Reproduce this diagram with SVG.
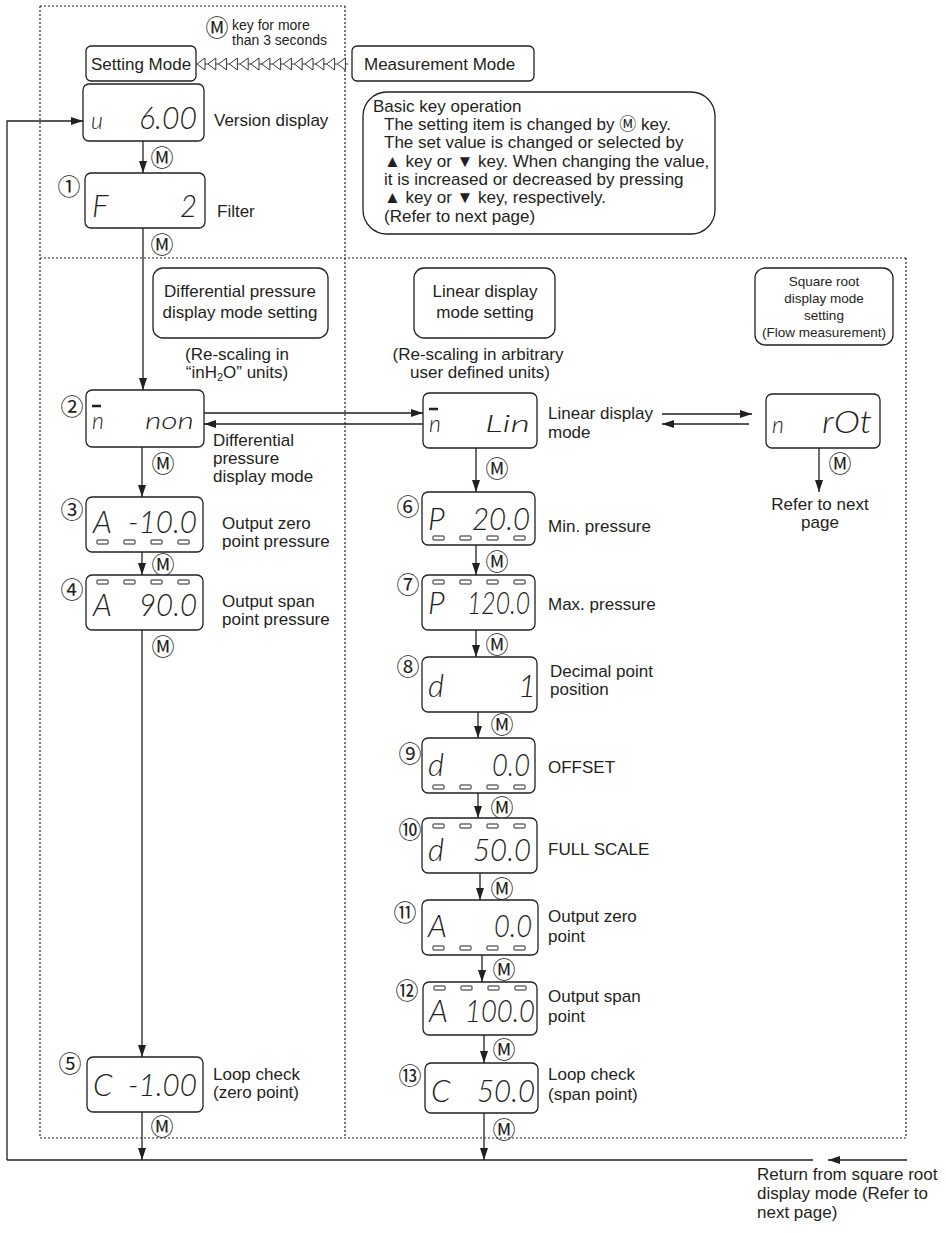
<svg xmlns="http://www.w3.org/2000/svg" width="946" height="1233" viewBox="0 0 946 1233">
<defs>
<style>
text{fill:#231f20}
.t{font-family:"Liberation Sans",Arial,sans-serif;font-size:17px}
.s{font-family:"Liberation Sans",Arial,sans-serif;font-size:14px}
.q{font-family:"Liberation Sans",Arial,sans-serif;font-size:13.5px;text-anchor:middle}
.c{text-anchor:middle}
.cj{font-family:"Noto Sans CJK JP",sans-serif}
.m{font-family:"Noto Sans CJK JP",sans-serif;font-size:23px;text-anchor:middle;dominant-baseline:central}
.lcd{font-family:"Lato","Liberation Sans",sans-serif;font-weight:300;font-style:italic;font-size:31px}
.lw{font-family:"Lato","Liberation Sans",sans-serif;font-weight:300;font-style:italic;font-size:23px}
.box{fill:#fff;stroke:#231f20;stroke-width:1.3}
.ln{fill:none;stroke:#231f20;stroke-width:1.3}
.ar{fill:none;stroke:#231f20;stroke-width:1.3;marker-end:url(#ah)}
.dt{fill:none;stroke:#231f20;stroke-width:1.2;stroke-dasharray:2 2}
.bar rect{fill:none;stroke:#231f20;stroke-width:1}
.seg{stroke:#231f20;stroke-width:2.5}
</style>
<marker id="ah" viewBox="0 0 12 8" refX="12" refY="4" markerWidth="12" markerHeight="8" orient="auto" markerUnits="userSpaceOnUse"><path d="M0,0 L12,4 L0,8 Z" fill="#231f20"/></marker>
<path id="ha" d="M0,0 L8,-6 L8,6 Z M8,0 H10.8" fill="#fff" stroke="#231f20" stroke-width="0.9"/>
<g id="bars" class="bar"><rect x="11" y="0" width="11" height="4" rx="0.5"/><rect x="38" y="0" width="11" height="4" rx="0.5"/><rect x="65" y="0" width="11" height="4" rx="0.5"/><rect x="92" y="0" width="11" height="4" rx="0.5"/></g>
</defs>
<rect width="946" height="1233" fill="#fff"/>

<g id="frames">
<line class="dt" x1="40" y1="6" x2="345" y2="6"/>
<line class="dt" x1="40" y1="6" x2="40" y2="1138"/>
<line class="dt" x1="345" y1="6" x2="345" y2="1138"/>
<line class="dt" x1="40" y1="258" x2="906" y2="258"/>
<line class="dt" x1="906" y1="258" x2="906" y2="1138"/>
<line class="dt" x1="40" y1="1138" x2="906" y2="1138"/>
</g>

<g id="connectors">
<path class="ar" d="M7,1160 V121 H83"/>
<path class="ln" d="M7,1160 H813"/>
<path class="ar" d="M907,1160 H828"/>
<path class="ar" d="M143,141 V173"/>
<path class="ar" d="M143,228 V390"/>
<path class="ar" d="M142,447 V497"/>
<path class="ar" d="M142,552 V575"/>
<path class="ar" d="M142,630 V1057"/>
<path class="ar" d="M142,1112 V1160"/>
<path class="ar" d="M204,413 H423"/>
<path class="ar" d="M423,424 H204"/>
<path class="ar" d="M662,414 H752"/>
<path class="ar" d="M749,424 H662"/>
<path class="ar" d="M819,448 V492"/>
<path class="ar" d="M476,448 V492"/>
<path class="ar" d="M476,545 V575"/>
<path class="ar" d="M476,630 V657"/>
<path class="ar" d="M478,712 V738"/>
<path class="ar" d="M478,793 V818"/>
<path class="ar" d="M480,873 V900"/>
<path class="ar" d="M482,955 V982"/>
<path class="ar" d="M484,1035 V1063"/>
<path class="ar" d="M484,1113 V1160"/>
<g id="hold-chain">
<use href="#ha" x="197" y="64"/><use href="#ha" x="207.8" y="64"/><use href="#ha" x="218.6" y="64"/><use href="#ha" x="229.4" y="64"/><use href="#ha" x="240.2" y="64"/><use href="#ha" x="251" y="64"/><use href="#ha" x="261.8" y="64"/><use href="#ha" x="272.6" y="64"/><use href="#ha" x="283.4" y="64"/><use href="#ha" x="294.2" y="64"/><use href="#ha" x="305" y="64"/><use href="#ha" x="315.8" y="64"/><use href="#ha" x="326.6" y="64"/><use href="#ha" x="337.4" y="64"/>
</g>
<g id="m-keys">
<text class="m" x="162" y="156">Ⓜ</text>
<text class="m" x="162" y="243">Ⓜ</text>
<text class="m" x="163" y="462">Ⓜ</text>
<text class="m" x="163" y="563">Ⓜ</text>
<text class="m" x="163" y="645">Ⓜ</text>
<text class="m" x="162" y="1125">Ⓜ</text>
<text class="m" x="497" y="467">Ⓜ</text>
<text class="m" x="497" y="560">Ⓜ</text>
<text class="m" x="497" y="643">Ⓜ</text>
<text class="m" x="502" y="723">Ⓜ</text>
<text class="m" x="502" y="806">Ⓜ</text>
<text class="m" x="502" y="887">Ⓜ</text>
<text class="m" x="504" y="968">Ⓜ</text>
<text class="m" x="504" y="1048">Ⓜ</text>
<text class="m" x="504" y="1128">Ⓜ</text>
<text class="m" x="840" y="462">Ⓜ</text>
</g>
</g>

<g id="hold-note"><text class="m" x="217" y="26">Ⓜ</text><text class="s" x="232" y="30">key for more</text><text class="s" x="232" y="45">than 3 seconds</text></g>
<g id="setting-mode"><rect class="box" x="86" y="46" width="110" height="35" rx="5"/><text class="t c" x="141" y="70">Setting Mode</text></g>
<g id="measurement-mode"><rect class="box" x="352" y="46" width="182" height="35" rx="5"/><text class="t" x="364" y="70">Measurement Mode</text></g>

<g id="basic-key">
<rect class="box" x="363" y="92" width="352" height="142" rx="24"/>
<text class="t" x="373" y="112">Basic key operation</text>
<text class="t" x="384" y="130">The setting item is changed by <tspan class="cj">Ⓜ</tspan> key.</text>
<text class="t" x="384" y="148">The set value is changed or selected by</text>
<text class="t" x="384" y="167">▲ key or ▼ key. When changing the value,</text>
<text class="t" x="384" y="185">it is increased or decreased by pressing</text>
<text class="t" x="384" y="203">▲ key or ▼ key, respectively.</text>
<text class="t" x="384" y="222">(Refer to next page)</text>
</g>

<g id="version">
<rect class="box" x="83" y="84" width="121" height="57" rx="6"/>
<text class="lw" x="91" y="129">u</text><text class="lcd" x="139" y="129" textLength="58" lengthAdjust="spacingAndGlyphs">6.00</text>
<text class="t" x="214" y="126">Version display</text>
</g>

<g id="n1-filter">
<text class="m" x="69" y="185">①</text>
<rect class="box" x="85" y="173" width="120" height="55" rx="6"/>
<text class="lcd" x="92" y="217">F</text><text class="lcd" x="180" y="217" textLength="17" lengthAdjust="spacingAndGlyphs">2</text>
<text class="t" x="217" y="217">Filter</text>
</g>

<g id="diff-setting">
<rect class="box" x="153" y="268" width="175" height="70" rx="10"/>
<text class="t c" x="240" y="297">Differential pressure</text>
<text class="t c" x="240" y="318">display mode setting</text>
<text class="t c" x="237" y="360">(Re-scaling in</text>
<text class="t c" x="237" y="378">“inH<tspan font-size="11" dy="3">2</tspan><tspan dy="-3">O” units)</tspan></text>
</g>

<g id="linear-setting">
<rect class="box" x="414" y="268" width="141" height="70" rx="10"/>
<text class="t c" x="485" y="297">Linear display</text>
<text class="t c" x="485" y="318">mode setting</text>
<text class="t c" x="478" y="360">(Re-scaling in arbitrary</text>
<text class="t c" x="480" y="378">user defined units)</text>
</g>

<g id="sqrt-setting">
<rect class="box" x="755" y="268" width="138" height="77" rx="10"/>
<text class="q" x="824" y="286">Square root</text>
<text class="q" x="824" y="303">display mode</text>
<text class="q" x="824" y="320">setting</text>
<text class="q" x="824" y="337">(Flow measurement)</text>
</g>

<g id="n2-diff-mode">
<text class="m" x="72" y="405">②</text>
<rect class="box" x="86" y="390" width="118" height="57" rx="6"/>
<line class="seg" x1="92" y1="406" x2="101" y2="406"/>
<text class="lw" x="92" y="429">n</text><text class="lw" x="145" y="429" textLength="49" lengthAdjust="spacingAndGlyphs">non</text>
<text class="t" x="213" y="446">Differential</text>
<text class="t" x="213" y="464">pressure</text>
<text class="t" x="213" y="482">display mode</text>
</g>

<g id="linear-mode">
<rect class="box" x="423" y="393" width="114" height="55" rx="6"/>
<line class="seg" x1="429" y1="409" x2="438" y2="409"/>
<text class="lw" x="429" y="432">n</text><text class="lw" x="485" y="432" textLength="45" lengthAdjust="spacingAndGlyphs">Lin</text>
<text class="t" x="548" y="419">Linear display</text>
<text class="t" x="548" y="438">mode</text>
</g>

<g id="sqrt-mode">
<rect class="box" x="766" y="394" width="114" height="54" rx="6"/>
<text class="lw" x="772" y="433">n</text><text class="lcd" x="822" y="433" textLength="50" lengthAdjust="spacingAndGlyphs">rOt</text>
<text class="t c" x="820" y="510">Refer to next</text>
<text class="t c" x="820" y="528">page</text>
</g>

<g id="n3-zero-pressure">
<text class="m" x="72" y="508">③</text>
<rect class="box" x="86" y="497" width="117" height="55" rx="6"/>
<text class="lcd" x="93" y="533">A</text><text class="lcd" x="128" y="533" textLength="69" lengthAdjust="spacingAndGlyphs">-10.0</text>
<use href="#bars" x="86" y="540"/>
<text class="t" x="222" y="529">Output zero</text>
<text class="t" x="222" y="547">point pressure</text>
</g>

<g id="n4-span-pressure">
<text class="m" x="72" y="588">④</text>
<rect class="box" x="86" y="575" width="117" height="55" rx="6"/>
<use href="#bars" x="86" y="580"/>
<text class="lcd" x="93" y="616">A</text><text class="lcd" x="139" y="616" textLength="58" lengthAdjust="spacingAndGlyphs">90.0</text>
<text class="t" x="222" y="607">Output span</text>
<text class="t" x="222" y="625">point pressure</text>
</g>

<g id="n5-loop-zero">
<text class="m" x="70" y="1062">⑤</text>
<rect class="box" x="87" y="1057" width="116" height="55" rx="6"/>
<text class="lcd" x="93" y="1096">C</text><text class="lcd" x="128" y="1096" textLength="69" lengthAdjust="spacingAndGlyphs">-1.00</text>
<text class="t" x="213" y="1080">Loop check</text>
<text class="t" x="213" y="1098">(zero point)</text>
</g>

<g id="n6-min">
<text class="m" x="408" y="505">⑥</text>
<rect class="box" x="422" y="492" width="113" height="53" rx="6"/>
<text class="lcd" x="428" y="530">P</text><text class="lcd" x="472" y="530" textLength="58" lengthAdjust="spacingAndGlyphs">20.0</text>
<use href="#bars" x="422" y="536"/>
<text class="t" x="548" y="532">Min. pressure</text>
</g>

<g id="n7-max">
<text class="m" x="408" y="583">⑦</text>
<rect class="box" x="422" y="575" width="113" height="55" rx="6"/>
<use href="#bars" x="422" y="580"/>
<text class="lcd" x="428" y="614">P</text><text class="lcd" x="467" y="614" textLength="63" lengthAdjust="spacingAndGlyphs">120.0</text>
<text class="t" x="548" y="610">Max. pressure</text>
</g>

<g id="n8-decimal">
<text class="m" x="408" y="665">⑧</text>
<rect class="box" x="422" y="657" width="115" height="55" rx="6"/>
<text class="lcd" x="428" y="697">d</text><text class="lcd" x="518" y="697">1</text>
<text class="t" x="550" y="677">Decimal point</text>
<text class="t" x="550" y="695">position</text>
</g>

<g id="n9-offset">
<text class="m" x="410" y="752">⑨</text>
<rect class="box" x="422" y="738" width="113" height="55" rx="6"/>
<text class="lcd" x="428" y="776">d</text><text class="lcd" x="492" y="776" textLength="38" lengthAdjust="spacingAndGlyphs">0.0</text>
<use href="#bars" x="422" y="785"/>
<text class="t" x="548" y="773">OFFSET</text>
</g>

<g id="n10-full-scale">
<text class="m" x="410" y="828">⑩</text>
<rect class="box" x="422" y="818" width="115" height="55" rx="6"/>
<use href="#bars" x="422" y="824"/>
<text class="lcd" x="428" y="861">d</text><text class="lcd" x="473" y="861" textLength="58" lengthAdjust="spacingAndGlyphs">50.0</text>
<text class="t" x="548" y="855">FULL SCALE</text>
</g>

<g id="n11-out-zero">
<text class="m" x="405" y="911">⑪</text>
<rect class="box" x="422" y="900" width="116" height="55" rx="6"/>
<text class="lcd" x="428" y="937">A</text><text class="lcd" x="494" y="937" textLength="38" lengthAdjust="spacingAndGlyphs">0.0</text>
<use href="#bars" x="422" y="946"/>
<text class="t" x="548" y="922">Output zero</text>
<text class="t" x="548" y="942">point</text>
</g>

<g id="n12-out-span">
<text class="m" x="407" y="989">⑫</text>
<rect class="box" x="423" y="982" width="114" height="53" rx="6"/>
<use href="#bars" x="423" y="986"/>
<text class="lcd" x="429" y="1022">A</text><text class="lcd" x="465" y="1022" textLength="70" lengthAdjust="spacingAndGlyphs">100.0</text>
<text class="t" x="548" y="1002">Output span</text>
<text class="t" x="548" y="1022">point</text>
</g>

<g id="n13-loop-span">
<text class="m" x="410" y="1074">⑬</text>
<rect class="box" x="425" y="1063" width="113" height="50" rx="6"/>
<text class="lcd" x="431" y="1102">C</text><text class="lcd" x="477" y="1102" textLength="58" lengthAdjust="spacingAndGlyphs">50.0</text>
<text class="t" x="548" y="1080">Loop check</text>
<text class="t" x="548" y="1100">(span point)</text>
</g>

<g id="return-note">
<text class="t" x="757" y="1180">Return from square root</text>
<text class="t" x="757" y="1199">display mode (Refer to</text>
<text class="t" x="757" y="1218">next page)</text>
</g>
</svg>
